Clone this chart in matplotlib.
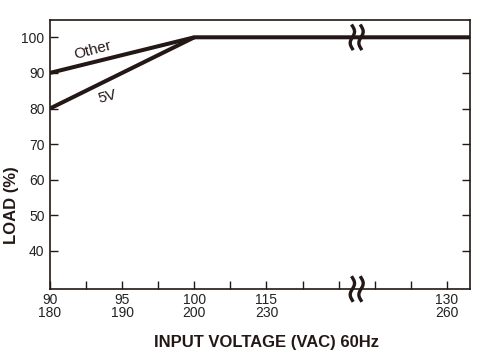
import matplotlib
matplotlib.use("Agg")
import matplotlib.pyplot as plt
import numpy as np

plt.rcParams['font.family'] = ["Liberation Sans", "DejaVu Sans"]

# data
tick_pos = [0, 2, 4, 6, 11]
tick_labels = ["90\n180", "95\n190", "100\n200", "115\n230", "130\n260"]
minor_pos = [1, 3, 5, 7, 8, 9, 10]
y_ticks = [40, 50, 60, 70, 80, 90, 100]
x_other = [0, 4, 11.64]
y_other = [90, 100, 100]
x_5v = [0, 4]
y_5v = [80, 100]
break_pos = 8.5

col = "#231815"
fig = plt.figure(figsize=(4.8, 3.61), dpi=100)
ax = fig.add_axes([50/480, 1-289/361, 420/480, (289-19.5)/361])
ax.set_xlim(0, 11.64)
ax.set_ylim(29.3, 105)
ax.plot(x_other, y_other, color=col, lw=2.9, solid_capstyle='butt', zorder=3)
ax.plot(x_5v, y_5v, color=col, lw=2.9, solid_capstyle='butt', zorder=3)

ax.set_xticks(tick_pos)
ax.set_xticklabels(tick_labels, fontsize=10, color="#222", linespacing=0.9)
ax.set_xticks(minor_pos, minor=True)
ax.set_yticks(y_ticks)
ax.set_yticklabels([str(v) for v in y_ticks], fontsize=10, color="#222")
ax.tick_params(axis='both', which='both', direction='in', length=6, width=1, color=col)
ax.tick_params(axis='y', right=True)
ax.tick_params(axis='x', pad=3)
ax.tick_params(axis='y', pad=4)
for s in ax.spines.values():
    s.set_color(col)
    s.set_linewidth(1.2)

# break marks
def brk(yc):
    t = np.linspace(-1, 1, 40)
    for dx in (-0.12, 0.12):
        xs = break_pos + dx + 0.06*np.sin(t*np.pi)
        ys = yc + t*3.2
        ax.plot(xs, ys, color=col, lw=2.4, zorder=5, clip_on=False)
brk(100)
brk(29.3)

ax.text(1.17, 96.4, "Other", rotation=15, fontsize=11, ha='center', va='center', color=col)
ax.text(1.58, 83.3, "5V", rotation=15, fontsize=11, ha='center', va='center', color=col)

fig.text(12/480, 1-205/361, "LOAD (%)", rotation=90, fontsize=12, fontweight='bold', ha='center', va='center', color=col)
fig.text(267/480, 1-343/361, "INPUT VOLTAGE (VAC) 60Hz", fontsize=12, fontweight='bold', ha='center', va='center', color=col)

fig.savefig("out.png", dpi=100)
